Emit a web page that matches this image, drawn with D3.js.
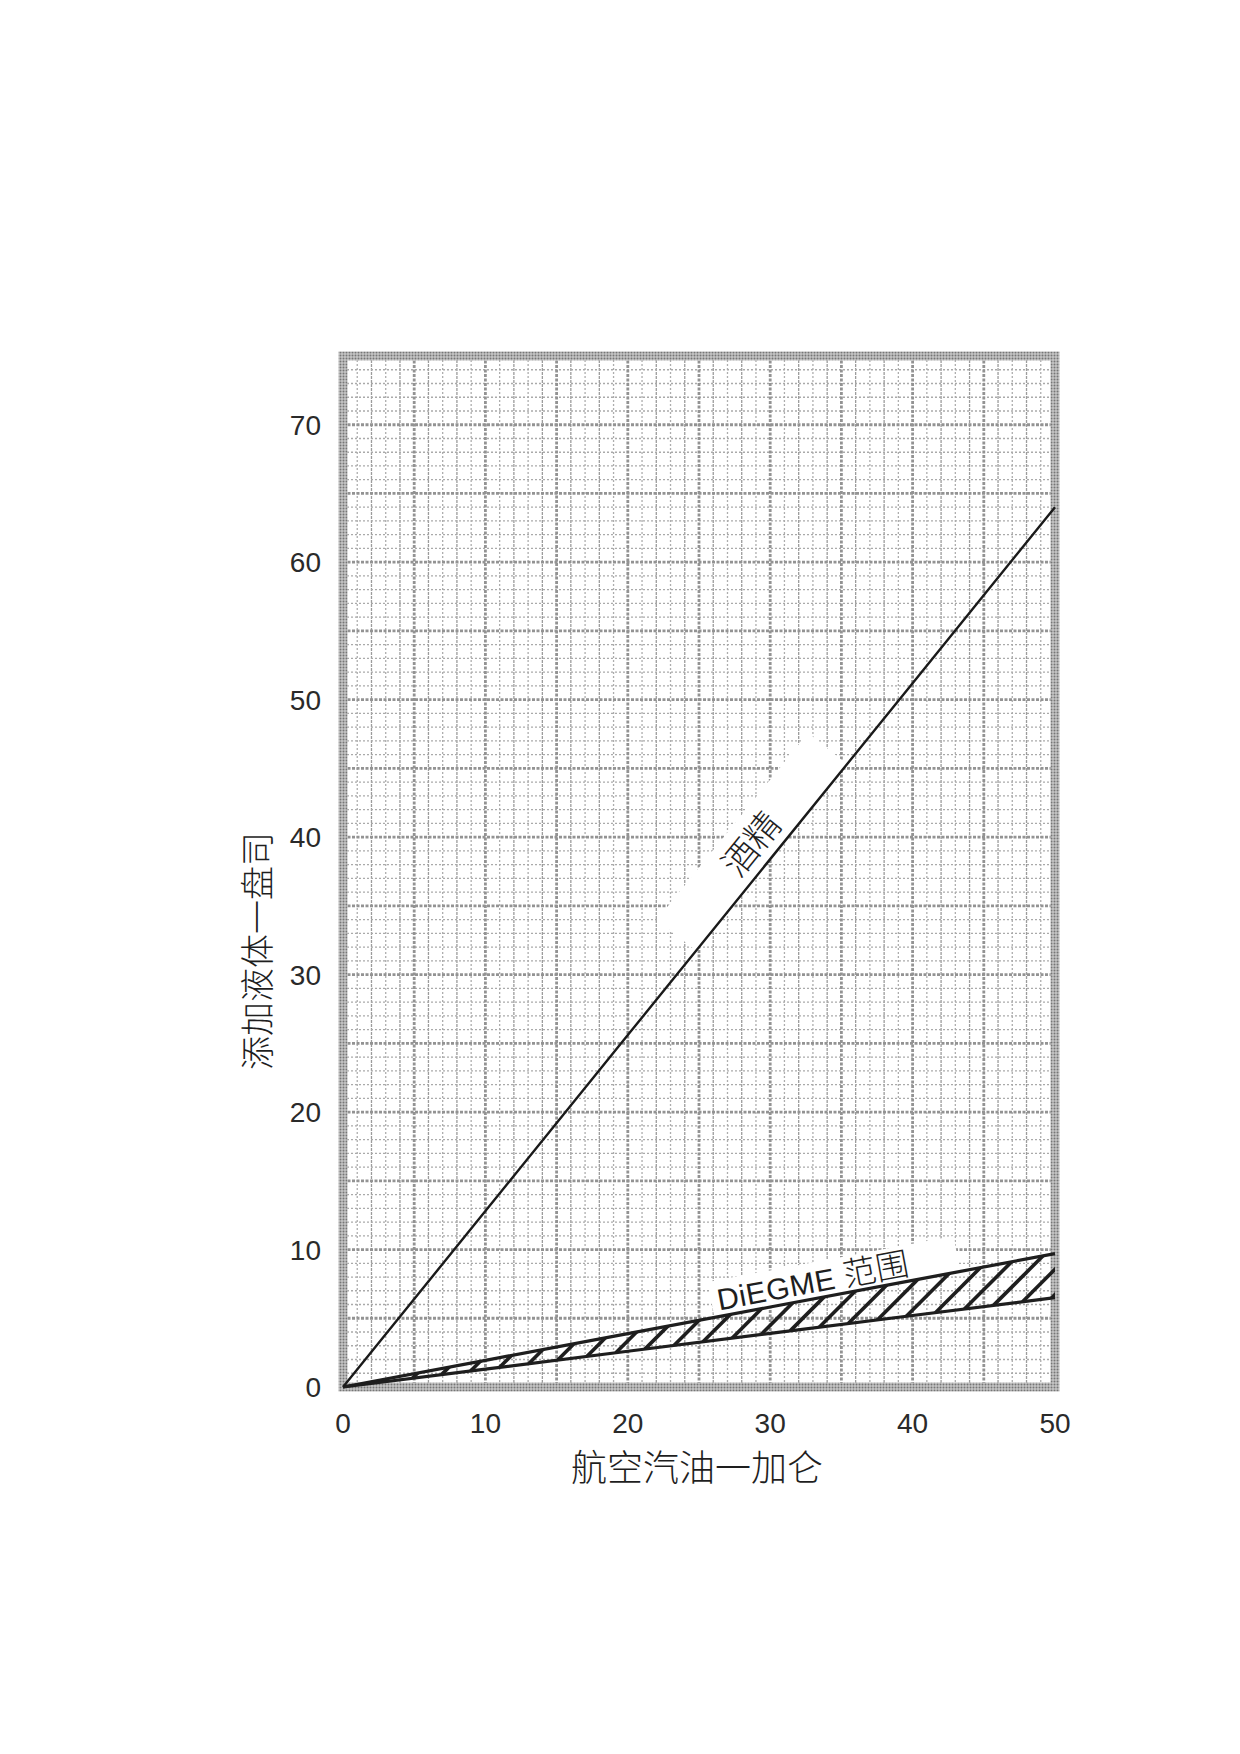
<!DOCTYPE html>
<html lang="zh">

<head>
    <meta charset="UTF-8">
    <title>添加液体 - 航空汽油</title>
    <script src="https://d3js.org/d3.v7.min.js"></script>
    <style>
        body { margin: 0; background: #fff; }
        .tick-label { font-family: "Liberation Sans", Arial, sans-serif; font-size: 28px; fill: #2a2a2a; }
        .cjk { font-family: "Noto Sans CJK SC", sans-serif; fill: #1e1e1e; }
    </style>
</head>

<body>
    <div id="chart"></div>

    <script>
        // values
        const gallons = [0, 10, 20, 30, 40, 50];
        const alcohol = [0, 12.8, 25.6, 38.4, 51.2, 64];        // 酒精
        const diegmeHigh = [0, 1.94, 3.88, 5.82, 7.76, 9.7];   // DiEGME 上限
        const diegmeLow = [0, 1.3, 2.6, 3.9, 5.2, 6.5];        // DiEGME 下限
        const xTicks = [0, 10, 20, 30, 40, 50];
        const yTicks = [0, 10, 20, 30, 40, 50, 60, 70];

        const width = 1240, height = 1754;

        const svg = d3.select("#chart")
            .append("svg")
            .attr("width", width)
            .attr("height", height);

        const x = d3.scaleLinear().domain([0, 50]).range([343, 1055]);
        const y = d3.scaleLinear().domain([0, 75]).range([1387, 356]);

        const defs = svg.append("defs");

        // halftone look for the frame
        const ht = defs.append("pattern")
            .attr("id", "halftone")
            .attr("patternUnits", "userSpaceOnUse")
            .attr("width", 3).attr("height", 3);
        ht.append("rect").attr("width", 3).attr("height", 3).attr("fill", "#c6c6c6");
        ht.append("circle").attr("cx", 1.5).attr("cy", 1.5).attr("r", 1).attr("fill", "#767676");

        // grid: minor every 1, major every 5
        const grid = svg.append("g");
        const xs = d3.range(0, 51, 1), ys = d3.range(0, 76, 1);

        grid.selectAll(".vminor")
            .data(xs.filter(d => d % 5 !== 0))
            .enter().append("line")
            .attr("x1", d => x(d)).attr("x2", d => x(d))
            .attr("y1", y(75)).attr("y2", y(0))
            .attr("stroke", d => d % 2 === 0 ? "#9c9c9c" : "#adadad")
            .attr("stroke-width", 1.3)
            .attr("stroke-dasharray", d => d % 2 === 0 ? "3,1" : "2,2");

        grid.selectAll(".hminor")
            .data(ys.filter(d => d % 5 !== 0))
            .enter().append("line")
            .attr("x1", x(0)).attr("x2", x(50))
            .attr("y1", d => y(d)).attr("y2", d => y(d))
            .attr("stroke", "#aaaaaa")
            .attr("stroke-width", 1.3)
            .attr("stroke-dasharray", "2,2");

        grid.selectAll(".vmajor")
            .data(xs.filter(d => d % 5 === 0))
            .enter().append("line")
            .attr("x1", d => x(d)).attr("x2", d => x(d))
            .attr("y1", y(75)).attr("y2", y(0))
            .attr("stroke", "#939393")
            .attr("stroke-width", 2.8)
            .attr("stroke-dasharray", "3,1.5");

        grid.selectAll(".hmajor")
            .data(ys.filter(d => d % 5 === 0))
            .enter().append("line")
            .attr("x1", x(0)).attr("x2", x(50))
            .attr("y1", d => y(d)).attr("y2", d => y(d))
            .attr("stroke", "#939393")
            .attr("stroke-width", 2.8)
            .attr("stroke-dasharray", "3,1.5");

        // frame
        svg.append("rect")
            .attr("x", x(0)).attr("y", y(75))
            .attr("width", x(50) - x(0)).attr("height", y(0) - y(75))
            .attr("fill", "none")
            .attr("stroke", "url(#halftone)")
            .attr("stroke-width", 9);

        // angles of the lines on screen
        const lastI = gallons.length - 1;
        const angleOf = vals => Math.atan2(y(vals[lastI]) - y(vals[0]), x(gallons[lastI]) - x(gallons[0])) * 180 / Math.PI;
        const alcF = d3.scaleLinear().domain(gallons).range(alcohol);
        const hiF = d3.scaleLinear().domain(gallons).range(diegmeHigh);
        const loF = d3.scaleLinear().domain(gallons).range(diegmeLow);

        // white label backgrounds
        const alcAngle = angleOf(alcohol);
        const alcLabel = svg.append("g")
            .attr("transform", `translate(${x(30)},${y(alcF(30))}) rotate(${alcAngle})`);
        alcLabel.append("rect")
            .attr("x", -118).attr("y", -50).attr("width", 240).attr("height", 50)
            .attr("fill", "#fff");

        const dgAngle = angleOf(diegmeHigh);
        const dgLabel = svg.append("g")
            .attr("transform", `translate(${x(26.5)},${y(hiF(26.5))}) rotate(${dgAngle})`);
        dgLabel.append("rect")
            .attr("x", -6).attr("y", -36).attr("width", 250).attr("height", 36)
            .attr("fill", "#fff");

        // hatched DiEGME band
        const bandArea = d3.area()
            .x((d, i) => x(gallons[i]))
            .y0((d, i) => y(diegmeLow[i]))
            .y1((d, i) => y(diegmeHigh[i]));

        defs.append("clipPath").attr("id", "bandClip")
            .append("path")
            .attr("d", bandArea(gallons));

        const hatchStarts = d3.range(0.8, 50, 2.04);
        svg.append("g")
            .attr("clip-path", "url(#bandClip)")
            .selectAll("line")
            .data(hatchStarts)
            .enter().append("line")
            .attr("x1", d => x(d)).attr("y1", d => y(loF(d)))
            .attr("x2", d => x(d) + 60).attr("y2", d => y(loF(d)) - 60)
            .attr("stroke", "#1e1e1e")
            .attr("stroke-width", 3.6);

        const line = vals => d3.line()
            .x((d, i) => x(gallons[i]))
            .y((d, i) => y(vals[i]))(gallons);

        svg.append("path")
            .attr("d", line(diegmeHigh))
            .attr("fill", "none").attr("stroke", "#1e1e1e").attr("stroke-width", 3.2);
        svg.append("path")
            .attr("d", line(diegmeLow))
            .attr("fill", "none").attr("stroke", "#1e1e1e").attr("stroke-width", 3.2);
        svg.append("path")
            .attr("d", line(alcohol))
            .attr("fill", "none").attr("stroke", "#1a1a1a").attr("stroke-width", 2.4);

        // line labels
        alcLabel.append("text")
            .attr("class", "cjk")
            .attr("x", 0).attr("y", -27)
            .attr("text-anchor", "middle")
            .attr("dominant-baseline", "central")
            .attr("font-size", 35)
            .attr("font-weight", 300)
            .text("酒精");

        const dgText = dgLabel.append("text")
            .attr("x", 0).attr("y", -6)
            .attr("fill", "#1e1e1e");
        dgText.append("tspan")
            .attr("font-family", "Liberation Sans, Arial, sans-serif")
            .attr("font-size", 30)
            .attr("letter-spacing", 0.5)
            .text("DiEGME ");
        dgText.append("tspan")
            .attr("font-family", "Noto Sans CJK SC, sans-serif")
            .attr("font-size", 33)
            .attr("font-weight", 300)
            .text("范围");

        // tick labels
        svg.selectAll(".xlab")
            .data(xTicks)
            .enter().append("text")
            .attr("class", "tick-label")
            .attr("x", d => x(d)).attr("y", 1433)
            .attr("text-anchor", "middle")
            .text(d => d);

        svg.selectAll(".ylab")
            .data(yTicks)
            .enter().append("text")
            .attr("class", "tick-label")
            .attr("x", 321).attr("y", d => y(d) + 10)
            .attr("text-anchor", "end")
            .text(d => d);

        // axis titles
        svg.append("text")
            .attr("class", "cjk")
            .attr("x", 697).attr("y", 1465)
            .attr("text-anchor", "middle")
            .attr("dominant-baseline", "central")
            .attr("font-size", 36)
            .attr("font-weight", 300)
            .text("航空汽油一加仑");

        svg.append("text")
            .attr("class", "cjk")
            .attr("transform", "translate(255,951) rotate(-90)")
            .attr("text-anchor", "middle")
            .attr("dominant-baseline", "central")
            .attr("font-size", 34)
            .attr("font-weight", 300)
            .text("添加液体一盘司");
    </script>
</body>

</html>
